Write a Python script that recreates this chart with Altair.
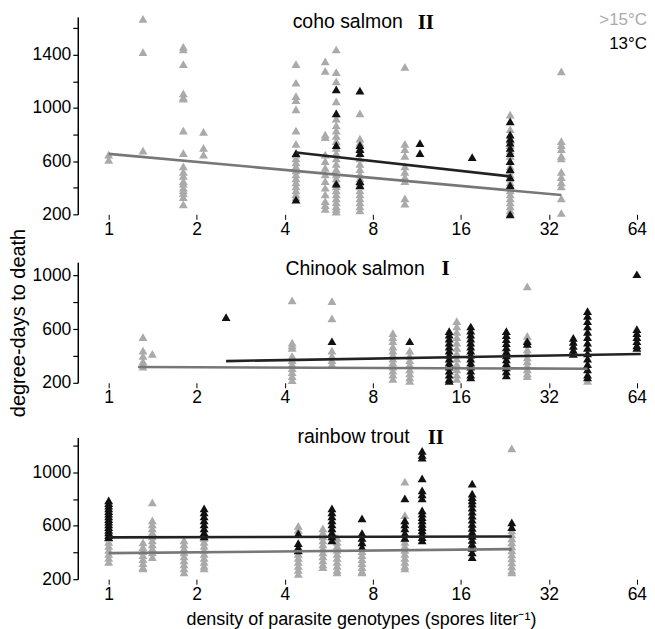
import altair as alt
import pandas as pd

X_TICKS = [1, 2, 4, 8, 16, 32, 64]
X_DOMAIN = [0.784, 67.7]
Y_TICKS = [200, 400, 600, 800, 1000, 1200, 1400, 1600]
WARM_LABEL = ">15°C"
COLD_LABEL = "13°C"
X_TITLE = "density of parasite genotypes (spores liter\u207b\u00b9)"
Y_TITLE = "degree-days to death"

# ---- coho salmon (x = spores/L, list of degree-days) ----
COHO_WARM = [
    (1.0, [650, 610]),
    (1.31, [1670, 1420, 680]),
    (1.80, [1460, 1440, 1330, 1110, 1080, 1070, 830, 660, 560, 520, 490, 450, 430, 400, 380, 360, 330, 275]),
    (2.11, [820, 700, 650]),
    (4.37, [1330, 1190, 1090, 1060, 990, 830, 730, 650, 620, 590, 560, 530, 500, 470, 440, 410, 380, 350, 330]),
    (5.5, [1350, 1280, 800, 780, 650, 600, 550, 500, 450, 400, 350, 300, 270, 240]),
    (6.0, [1440, 1270, 1200, 1050, 960, 920, 870, 830, 790, 750, 700, 660, 620, 580, 540, 500, 470, 440, 410, 380, 350, 320, 290, 260, 240, 220]),
    (7.23, [960, 770, 740, 700, 660, 620, 580, 540, 500, 470, 440, 410, 380, 350, 320, 290, 260, 230]),
    (10.3, [1310, 730, 690, 640, 560, 520, 480, 450, 320, 280]),
    (23.6, [950, 840, 760, 720, 680, 640, 600, 560, 530, 500, 470, 440, 410, 380, 350, 320, 290, 260, 230, 210]),
    (35.3, [1275, 750, 720, 690, 640, 620, 520, 480, 440, 410, 320, 210]),
]
COHO_COLD = [
    (4.37, [660, 310]),
    (6.0, [1140, 960, 720, 430]),
    (7.23, [1130, 720, 690, 660, 450, 420]),
    (11.6, [735, 660]),
    (17.5, [630]),
    (23.6, [900, 800, 770, 740, 700, 660, 600, 540, 480, 420, 200]),
]
COHO_WARM_FIT = ([1.0, 35.3], [655, 345])
COHO_COLD_FIT = ([4.37, 23.6], [665, 485])

# ---- Chinook salmon ----
CHIN_WARM = [
    (1.31, [540, 440, 400, 360, 340, 320]),
    (1.41, [415]),
    (4.24, [815, 500, 480, 460, 400, 370, 340, 310, 280, 250, 220]),
    (5.8, [810, 680, 440, 400, 370, 340]),
    (9.37, [570, 540, 510, 470, 440, 410, 380, 350, 320, 290, 260, 230]),
    (10.7, [440, 400, 370, 340, 300, 270, 240, 215]),
    (15.5, [660, 620, 580, 540, 500, 460, 420, 380, 340, 300, 260, 230]),
    (27.0, [920, 550, 520, 450, 420, 390, 360, 330, 300, 270, 250]),
    (43.4, [215]),
]
CHIN_COLD = [
    (2.52, [690]),
    (5.8, [510]),
    (10.7, [510]),
    (14.6, [585, 560, 530, 500, 470, 440, 410, 380, 350, 320, 290, 260, 230, 215]),
    (17.3, [620, 590, 560, 530, 500, 470, 440, 410, 380, 350, 320, 290, 260, 240]),
    (22.9, [585, 555, 525, 495, 465, 435, 405, 375, 345, 315, 285, 255]),
    (27.0, [510, 490]),
    (38.8, [535, 505, 475, 445, 415]),
    (43.4, [735, 700, 660, 620, 580, 540, 500, 460, 420, 380, 340, 300, 260, 240]),
    (64.0, [1010, 600, 570, 540, 510, 480, 460]),
]
CHIN_WARM_FIT = ([1.26, 43.4], [318, 305])
CHIN_COLD_FIT = ([2.52, 66.0], [362, 415])

# ---- rainbow trout ----
TROUT_WARM = [
    (1.0, [510, 480, 450, 420, 390, 360, 330]),
    (1.31, [475, 440, 410, 380, 350, 320, 290, 280]),
    (1.41, [775, 640, 610, 580, 550, 520, 490, 460, 430, 400, 365]),
    (1.81, [490, 460, 430, 400, 370, 340, 310, 280, 250]),
    (2.12, [510, 480, 450, 420, 390, 360, 330, 300, 280]),
    (4.45, [600, 570, 420, 390, 360, 330, 300, 270, 240]),
    (5.4, [580, 550, 520, 490, 460, 430, 400, 370, 340, 310, 290]),
    (6.04, [510, 480, 450, 420, 390, 360, 330, 300, 270, 250]),
    (7.35, [440, 410, 380, 350, 320, 290, 260, 250]),
    (10.3, [930, 680, 640, 510, 480, 450, 420, 390, 360, 330, 300, 280]),
    (23.9, [1180, 565, 535, 505, 475, 445, 415, 385, 355, 325, 295, 265, 250]),
]
TROUT_COLD = [
    (1.0, [790, 770, 750, 730, 710, 690, 670, 650, 630, 610, 590, 570, 550, 530, 515]),
    (2.12, [730, 700, 670, 640, 610, 580, 550, 520]),
    (4.45, [543, 470, 440, 415]),
    (5.8, [730, 700, 670, 640, 610, 580, 550, 520, 490]),
    (7.35, [655, 545, 510, 475, 440]),
    (10.3, [805, 640, 610, 580, 545, 510]),
    (11.8, [1160, 1130, 1110, 955, 865, 835, 805, 715, 690, 665, 640, 615, 590, 565, 540, 515, 490]),
    (17.5, [915, 840, 815, 790, 765, 735, 705, 675, 645, 615, 585, 555, 525, 495, 465, 435, 400, 365]),
    (23.9, [625, 590]),
]
TROUT_WARM_FIT = ([1.0, 23.9], [395, 425])
TROUT_COLD_FIT = ([1.0, 23.9], [513, 520])

GRAY_PT = "#aaaaaa"
BLACK_PT = "#111111"
GRAY_LN = "#777777"
BLACK_LN = "#222222"
SANS = "Liberation Sans"
SERIF = "Liberation Serif"
WIDTH = 568


def expand(groups):
    xs, ys = [], []
    for gx, gys in groups:
        for v in gys:
            xs.append(gx)
            ys.append(v)
    return pd.DataFrame({"x": xs, "y": ys})


def fit_df(fit):
    return pd.DataFrame({"x": fit[0], "y": fit[1]})


def panel(name, roman, warm, cold, warm_fit, cold_fit, y_domain, height, y_range,
          name_x, name_y, roman_x, roman_y, roman_align, show_ytitle, show_xtitle, legend):
    xaxis = alt.Axis(values=X_TICKS, format="d", domain=False, grid=False, tickSize=5,
                     tickColor="black", labelFontSize=17.5, labelFont=SANS, labelColor="black",
                     labelPadding=1, labelFlush=False, labelOverlap=False,
                     title=X_TITLE if show_xtitle else None, titleFontSize=18,
                     titleFont=SANS, titleFontWeight="normal", titleColor="black", titlePadding=8)
    yaxis = alt.Axis(values=Y_TICKS, format="d",
                     labelExpr="datum.value % 400 == 200 ? datum.label : ''",
                     domainColor="black", domainWidth=1.5, tickColor="black", tickWidth=1.2,
                     tickSize=5, grid=False, labelFontSize=17.5, labelFont=SANS,
                     labelColor="black", labelPadding=2, labelOverlap=False,
                     title=Y_TITLE if show_ytitle else None, titleFontSize=20, titleFont=SANS,
                     titleFontWeight="normal", titleColor="black", titlePadding=4)
    yscale = alt.Scale(domain=y_domain, zero=False, nice=False)
    if y_range is not None:
        yscale = alt.Scale(domain=y_domain, zero=False, nice=False, range=y_range)
    x_enc = alt.X("x:Q", scale=alt.Scale(type="log", base=2, domain=X_DOMAIN), axis=xaxis)
    y_enc = alt.Y("y:Q", scale=yscale, axis=yaxis)

    def pts(groups, color):
        return alt.Chart(expand(groups)).mark_point(
            shape="triangle-up", filled=True, size=80, opacity=1, color=color
        ).encode(x=x_enc, y=y_enc)

    def line(fit, color):
        return alt.Chart(fit_df(fit)).mark_line(color=color, strokeWidth=2.6).encode(x=x_enc, y=y_enc)

    def label(text, x, y, font, size, weight, align, color="black"):
        return alt.Chart(pd.DataFrame({"t": [text]})).mark_text(
            font=font, fontSize=size, fontWeight=weight, align=align, baseline="middle", color=color
        ).encode(text="t:N", x=alt.value(x), y=alt.value(y))

    layers = [pts(warm, GRAY_PT), pts(cold, BLACK_PT),
              line(warm_fit, GRAY_LN), line(cold_fit, BLACK_LN),
              label(name, name_x, name_y, SANS, 19.5, "normal", "right"),
              label(roman, roman_x, roman_y, SERIF, 21, "bold", roman_align)]
    if legend:
        layers.append(label(WARM_LABEL, WIDTH + 3, 3, SANS, 17, "normal", "right", GRAY_PT))
        layers.append(label(COLD_LABEL, WIDTH + 3, 27, SANS, 17, "normal", "right", "black"))
    return alt.layer(*layers).properties(width=WIDTH, height=height)


top = panel("coho salmon", "II", COHO_WARM, COHO_COLD, COHO_WARM_FIT, COHO_COLD_FIT,
            [200, 1685], 198, None, 326, 5, 341, 6, "left", False, False, True)
mid = panel("Chinook salmon", "I", CHIN_WARM, CHIN_COLD, CHIN_WARM_FIT, CHIN_COLD_FIT,
            [200, 1100], 121, None, 348, 7, 369, 7, "center", True, False, False)
bot = panel("rainbow trout", "II", TROUT_WARM, TROUT_COLD, TROUT_WARM_FIT, TROUT_COLD_FIT,
            [200, 1260], 149, [149, 7], 333, 6, 351, 7, "left", False, True, False)

chart = alt.vconcat(top, mid, bot, spacing=48, bounds="flush").properties(
    padding={"left": 0, "top": 2, "right": 0, "bottom": 0}
).configure_view(stroke=None)

chart.save("out.html", embed_options={"renderer": "svg", "actions": False})
